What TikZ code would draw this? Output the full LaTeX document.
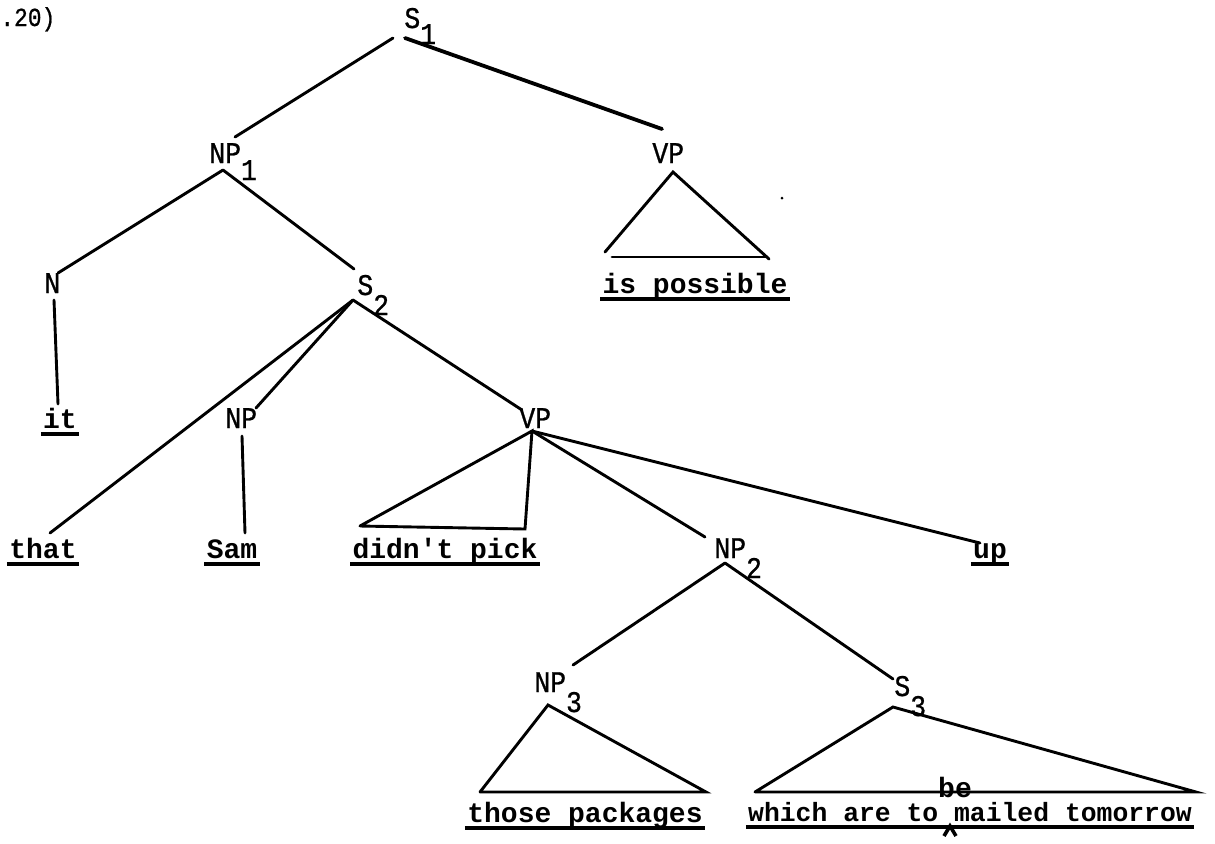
\documentclass[tikz,border=0pt]{standalone}
\usepackage{fontspec}
\newfontfamily\tw{Liberation Mono}[Ligatures=TeXOff]
\newfontfamily\twl{Liberation Mono}[Ligatures=TeXOff, FakeStretch=0.88, FakeBold=0.8]
\begin{document}
\begin{tikzpicture}[x=0.5pt,y=-0.5pt,
  lab/.style={font=\twl\fontsize{15}{15}\selectfont, inner sep=0pt, anchor=base west},
  leaf/.style={font=\tw\bfseries\fontsize{14}{14}\selectfont, inner sep=0pt, anchor=base},
  br/.style={line width=1.45pt, line cap=round},
  heavy/.style={line width=1.9pt, line cap=round},
  ul/.style={line width=1.6pt}]
\useasboundingbox (0,0) rectangle (1215,843);

% labels
\node[lab, font=\twl\fontsize{13}{13}\selectfont] (num) at (0,26) {.20)};
\node[lab] (S1) at (404,28) {S\raisebox{-8pt}{1}};
\node[lab] (NP1) at (209,163) {NP\raisebox{-8.5pt}{1}};
\node[lab] (VP1) at (652,163) {VP};
\node[lab] (N) at (44,293) {N};
\node[lab] (S2) at (357,295) {S\raisebox{-10pt}{2}};
\node[lab] (NP) at (225,428) {NP};
\node[lab] (VP2) at (519,428) {VP};
\node[lab] (NP2) at (714,558) {NP\raisebox{-10pt}{2}};
\node[lab] (NP3) at (534,692) {NP\raisebox{-10pt}{3}};
\node[lab] (S3) at (894,696) {S\raisebox{-10pt}{3}};

% leaves
\node[leaf] (it) at (60,428) {it};
\node[leaf] (that) at (43,558) {that};
\node[leaf] (sam) at (232,558) {Sam};
\node[leaf] (dpick) at (445,558) {didn't pick};
\node[leaf] (up) at (990,558) {up};
\node[leaf] (ispos) at (695,293) {is possible};
\node[leaf] (thpk) at (585,822) {those packages};
\node[leaf, font=\tw\bfseries\fontsize{13.2}{13.2}\selectfont] (which) at (970,821) {which are to mailed tomorrow};
\node[leaf] (be) at (955,797) {be};

\foreach \n in {it,that,sam,dpick,up,ispos,thpk,which}
  \draw[ul] ([xshift=-1pt,yshift=-3pt]\n.base west) -- ([xshift=1pt,yshift=-3pt]\n.base east);

% junction points
\coordinate (S1l) at (393,38); \coordinate (S1r) at (405,38);
\coordinate (NP1t) at (235,137); \coordinate (NP1b) at (223,170);
\coordinate (VP1t) at (662,129); \coordinate (VP1b) at (673,172);
\coordinate (VP1l) at (605,252); \coordinate (VP1r) at (769,259);
\coordinate (VP1bl) at (612,257); \coordinate (VP1br) at (767,257);
\coordinate (Nt) at (58,273); \coordinate (Nb) at (54,300);
\coordinate (itt) at (58,404);
\coordinate (S2t) at (354,269); \coordinate (S2b) at (353,300);
\coordinate (NPt) at (256,408); \coordinate (NPb) at (242,436);
\coordinate (samt) at (245,533);
\coordinate (thatt) at (50,533);
\coordinate (VP2t) at (522,410); \coordinate (VP2b) at (532,431);
\coordinate (dpl) at (360,526); \coordinate (dpr) at (525,529);
\coordinate (NP2t) at (705,537); \coordinate (NP2b) at (725,563);
\coordinate (upt) at (980,543);
\coordinate (NP3t) at (573,665); \coordinate (NP3b) at (548,705);
\coordinate (S3t) at (893,679); \coordinate (S3b) at (893,707);
\coordinate (tpl) at (480,792); \coordinate (tpr) at (706,792);
\coordinate (whl) at (755,792); \coordinate (whr) at (1196,792);
\coordinate (caret) at (950,826);

% branches
\draw[br] (S1l) -- (NP1t);
\draw[heavy] (S1r) -- (VP1t);
\draw[br] (VP1l) -- (VP1b) -- (VP1r);
\draw[br] (VP1bl) -- (VP1br);
\draw[br] (NP1b) -- (Nt);
\draw[br] (NP1b) -- (S2t);
\draw[br] (Nb) -- (itt);
\draw[br] (S2b) -- (thatt);
\draw[br] (S2b) -- (NPt);
\draw[br] (S2b) -- (VP2t);
\draw[br] (NPb) -- (samt);
\draw[br] (dpl) -- (VP2b) -- (dpr) -- (dpl);
\draw[br] (VP2b) -- (NP2t);
\draw[br] (VP2b) -- (upt);
\draw[br] (NP2b) -- (NP3t);
\draw[br] (NP2b) -- (S3t);
\draw[br] (tpl) -- (NP3b) -- (tpr) -- (tpl);
\draw[br] (whl) -- (S3b) -- (whr) -- (whl);
\draw[line width=1.8pt, line join=miter] ([xshift=-3pt,yshift=-5pt]caret) -- (caret) -- ([xshift=3pt,yshift=-5pt]caret);
\fill (782,198) circle (1.5);
\end{tikzpicture}
\end{document}
